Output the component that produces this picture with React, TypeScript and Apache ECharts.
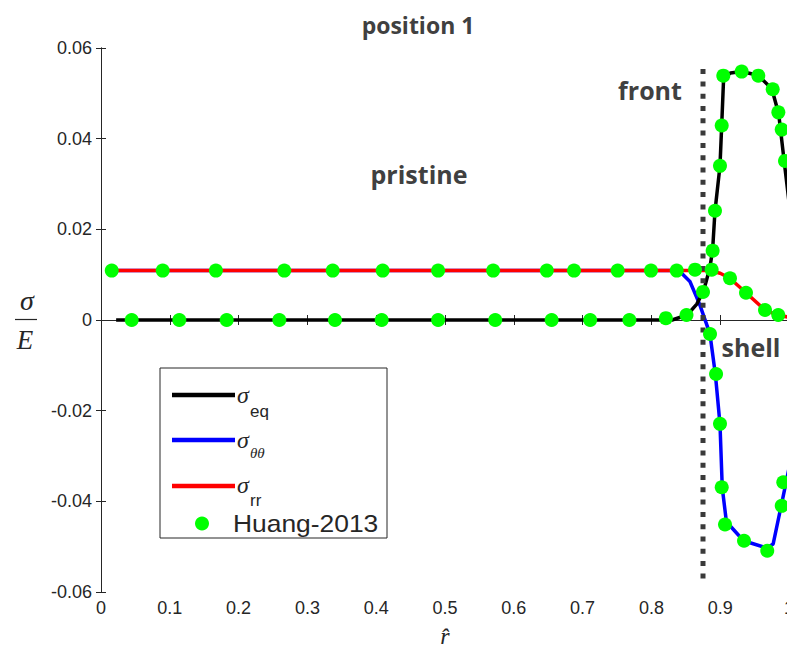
import React, { useEffect, useRef } from 'react';
import * as echarts from 'echarts';

// ---- data ----
const xTickStep = 0.1;
const yTickStep = 0.02;

// sigma_eq (black line)
const eqLine: number[][] = [
  [0.022, 0], [0.83, 0], [0.852, 0.0011], [0.866, 0.0035], [0.876, 0.0065],
  [0.885, 0.0115], [0.889, 0.0155], [0.8924, 0.024], [0.8997, 0.034], [0.9022, 0.043],
  [0.905, 0.0535], [0.915, 0.0545], [0.931, 0.0548], [0.955, 0.054], [0.975, 0.051],
  [0.985, 0.0455], [0.993, 0.035], [1.0, 0.026],
];
// sigma_theta-theta (blue line)
const thetaLine: number[][] = [
  [0.017, 0.0109], [0.84, 0.0109], [0.856, 0.0085], [0.87, 0.0035], [0.885, -0.003],
  [0.893, -0.012], [0.8997, -0.023], [0.903, -0.037], [0.909, -0.0445], [0.934, -0.0487],
  [0.968, -0.0503], [0.977, -0.0494], [0.99, -0.04], [1.0, -0.0327],
];
// sigma_rr (red line)
const rrLine: number[][] = [
  [0.017, 0.0109], [0.885, 0.0109], [0.9, 0.0103], [0.914, 0.0092], [0.9375, 0.006],
  [0.965, 0.0022], [0.984, 0.0011], [1.0, 0.0006],
];
// Huang-2013 reference points
const huangEq: number[][] = [
  [0.0446, 0], [0.1138, 0], [0.1827, 0], [0.2592, 0], [0.3401, 0], [0.408, 0],
  [0.49, 0], [0.573, 0], [0.655, 0], [0.711, 0], [0.768, 0], [0.821, 0.0004],
  [0.851, 0.0011], [0.875, 0.0062], [0.889, 0.0153], [0.8924, 0.0241], [0.8997, 0.034],
  [0.9022, 0.0429], [0.9045, 0.0539], [0.9312, 0.0548], [0.9554, 0.0539], [0.9763, 0.0509],
  [0.9845, 0.0458], [0.9894, 0.042], [0.9942, 0.0351],
];
const huangTheta: number[][] = [
  [0.8852, -0.0031], [0.894, -0.0119], [0.8997, -0.0229], [0.9022, -0.0369],
  [0.907, -0.0451], [0.9346, -0.0487], [0.9684, -0.0509], [0.9894, -0.041], [0.9917, -0.0358],
];
const huangRr: number[][] = [
  [0.0156, 0.0109], [0.0897, 0.0109], [0.167, 0.0109], [0.2664, 0.0109], [0.3368, 0.0109],
  [0.4094, 0.0109], [0.49, 0.0109], [0.57, 0.0109], [0.648, 0.0109], [0.6875, 0.0109],
  [0.751, 0.0109], [0.7994, 0.0109], [0.8368, 0.0109], [0.8634, 0.0111], [0.8876, 0.0111],
  [0.9142, 0.0092], [0.9375, 0.006], [0.9651, 0.0022], [0.9844, 0.0011],
];
// "front" marker line
const frontLine: number[][] = [[0.875, -0.057], [0.875, 0.0563]];

const titleText = 'position 1';
const legendNames = ['Huang-2013'];
const annotations = [
  { text: 'front', x: 650, y: 90 },
  { text: 'pristine', x: 419, y: 174 },
  { text: 'shell', x: 751, y: 347 },
];

const AXIS_COLOR = '#262626';
const TEXT_DARK = '#404040';

export default function App() {
  const ref = useRef<HTMLDivElement>(null);
  useEffect(() => {
    if (!ref.current) return;
    const chart = echarts.init(ref.current, undefined, { renderer: 'svg' });
    const axisCommon = {
      axisLine: { show: true, lineStyle: { color: AXIS_COLOR, width: 1 } },
      axisTick: { show: true, inside: true, length: 5, lineStyle: { color: AXIS_COLOR } },
      splitLine: { show: false },
    };
    const lbl = { color: AXIS_COLOR, fontFamily: 'Liberation Sans', fontSize: 18 };
    const serifIt = (size: number) => `italic ${size}px "Liberation Serif"`;
    const txt = (text: string, x: number, y: number, font: string, fill: string, align = 'left', sx = 1) => ({
      type: 'text', x, y, z: 110, scaleX: sx,
      style: { text, font, fill, align, verticalAlign: 'middle', textAlign: align, textVerticalAlign: 'middle' },
    });
    const legendLine = (y: number, color: string) => ({
      type: 'line', z: 110,
      shape: { x1: 172, y1: y, x2: 235, y2: y },
      style: { stroke: color, lineWidth: 4.5 },
    });

    chart.setOption({
      animation: false,
      backgroundColor: '#ffffff',
      grid: { left: 101, top: 48, width: 688, height: 544, containLabel: false, outerBoundsMode: 'none' },
      xAxis: [
        {
          type: 'value', min: 0, max: 1, interval: xTickStep, position: 'bottom',
          ...axisCommon,
          axisLabel: { ...lbl, margin: 7 },
          name: 'r\u0302', nameLocation: 'middle', nameGap: 32,
          nameTextStyle: { fontFamily: 'Liberation Serif', fontStyle: 'italic', fontSize: 24, color: AXIS_COLOR },
        },
        {
          type: 'value', min: 0, max: 1, interval: xTickStep, position: 'top',
          ...axisCommon, axisLabel: { show: false },
        },
      ],
      yAxis: [
        {
          type: 'value', min: -0.06, max: 0.06, interval: yTickStep, position: 'left',
          ...axisCommon,
          axisLabel: { ...lbl, margin: 9 },
        },
        {
          type: 'value', min: -0.06, max: 0.06, interval: yTickStep, position: 'right',
          ...axisCommon, axisLabel: { show: false },
        },
      ],
      series: [
        { name: 'σθθ', type: 'line', data: thetaLine, symbol: 'none', lineStyle: { color: '#0000ff', width: 3.5 }, z: 2 },
        { name: 'σeq', type: 'line', data: eqLine, symbol: 'none', lineStyle: { color: '#000000', width: 3.5 }, z: 3 },
        { name: 'σrr', type: 'line', data: rrLine, symbol: 'none', lineStyle: { color: '#ff0000', width: 3.5 }, z: 4 },
        {
          name: 'front', type: 'line', data: frontLine, symbol: 'none', z: 5,
          lineStyle: { color: '#3a3a3a', width: 5, type: [5, 7.3], cap: 'butt' },
        },
        ...[huangEq, huangTheta, huangRr].map((d) => ({
          name: legendNames[0], type: 'scatter', data: d, symbol: 'circle', symbolSize: 14,
          itemStyle: { color: '#00ff00', opacity: 1 }, z: 6,
        })),
      ],
      graphic: [
        txt(titleText, 418, 25, 'bold 23px "Open Sans"', TEXT_DARK, 'center'),
        ...annotations.map((a) => txt(a.text, a.x, a.y, 'bold 25px "Open Sans"', TEXT_DARK, 'center')),
        // y-axis name sigma / E
        txt('σ', 27, 300, serifIt(28), AXIS_COLOR, 'center'),
        { type: 'line', z: 110, shape: { x1: 15, y1: 319.5, x2: 37, y2: 319.5 }, style: { stroke: AXIS_COLOR, lineWidth: 1.2 } },
        txt('E', 25, 340, serifIt(27), AXIS_COLOR, 'center'),
        // legend box
        {
          type: 'rect', z: 100,
          shape: { x: 160, y: 368, width: 227, height: 170 },
          style: { fill: '#ffffff', stroke: AXIS_COLOR, lineWidth: 1 },
        },
        legendLine(395, '#000000'),
        txt('σ', 237, 395, serifIt(24), AXIS_COLOR),
        txt('eq', 250, 411, '17px "Liberation Sans"', AXIS_COLOR),
        legendLine(440, '#0000ff'),
        txt('σ', 237, 440, serifIt(24), AXIS_COLOR),
        txt('θθ', 250, 453, serifIt(15), AXIS_COLOR),
        legendLine(486, '#ff0000'),
        txt('σ', 237, 485, serifIt(24), AXIS_COLOR),
        txt('rr', 250, 500, '17px "Liberation Sans"', AXIS_COLOR),
        { type: 'circle', z: 110, shape: { cx: 202, cy: 523.5, r: 7 }, style: { fill: '#00ff00' } },
        txt(legendNames[0], 233, 523, '24px "Liberation Sans"', AXIS_COLOR, 'left', 1.1),
      ],
    });
    return () => chart.dispose();
  }, []);
  return (
    <div
      ref={ref}
      style={{ position: 'absolute', left: 0, top: 0, width: 787, height: 655, background: '#fff' }}
    />
  );
}
